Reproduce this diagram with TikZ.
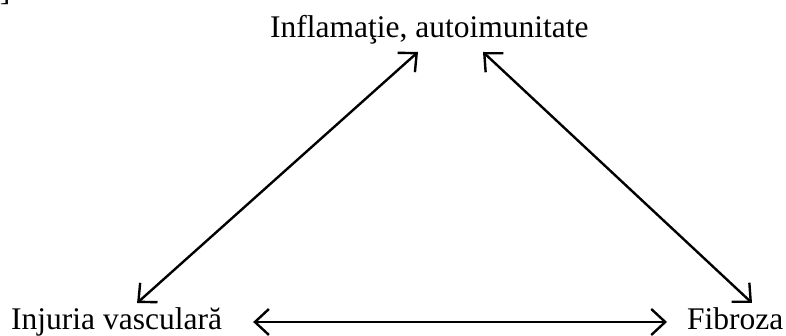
\documentclass[tikz,border=0pt]{standalone}
\usepackage{fontspec}
\setmainfont{Liberation Serif}
\usetikzlibrary{positioning,arrows.meta}

\begin{document}
\begin{tikzpicture}[
    x=1pt, y=-1pt,
    font=\fontsize{31.5}{38}\selectfont,
    lbl/.style={inner sep=0pt, anchor=base},
    link/.style={{Straight Barb[length=14pt,width=26pt]}-{Straight Barb[length=14pt,width=26pt]}, line width=2.4pt},
  ]
  \useasboundingbox (0,0) rectangle (786,336);

  \node[lbl, anchor=base east] (brk) at (10.5,0.5) {]};
  \node[lbl, anchor=base west] (infl) at (270,38) {Inflamaţie, autoimunitate};
  \node[lbl, anchor=base west] (inj) at (11,329) {Injuria vasculară};
  \node[lbl, anchor=base west] (fib) at (687,329) {Fibroza};

  % arrow ends
  \coordinate (injtop) at ([shift={(20.5,-26)}]inj.base);
  \coordinate (injrgt) at ([shift={(31,-7)}]inj.base east);
  \coordinate (infll) at ([shift={(148,14)}]infl.base west);
  \coordinate (inflr) at ([shift={(213,14)}]infl.base west);
  \coordinate (fibtop) at ([shift={(65,-26)}]fib.base west);
  \coordinate (fiblft) at ([shift={(-20,-7)}]fib.base west);

  \draw[link] (injtop) -- (infll);
  \draw[link] (inflr) -- (fibtop);
  \draw[link] (injrgt) -- (fiblft);
\end{tikzpicture}
\end{document}
